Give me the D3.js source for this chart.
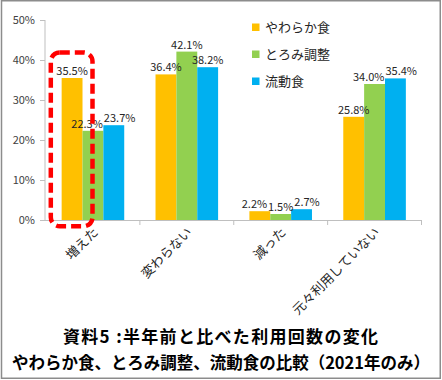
<!DOCTYPE html>
<html><head><meta charset="utf-8">
<script src="https://cdn.jsdelivr.net/npm/d3@7"></script>
<style>html,body{margin:0;padding:0;background:#fff;}svg{display:block;}</style>
</head><body>
<script>
const categories = ["増えた", "変わらない", "減った", "元々利用していない"];
const seriesNames = ["やわらか食", "とろみ調整", "流動食"];
const softFood = [35.5, 36.4, 2.2, 25.8];
const thickened = [22.3, 42.1, 1.5, 34.0];
const liquidFood = [23.7, 38.2, 2.7, 35.4];
const yTicks = [0, 10, 20, 30, 40, 50];
const colors = ["#FFC000", "#92D050", "#00B0F0"];
const titleLines = ["資料5 :半年前と比べた利用回数の変化", "やわらか食、とろみ調整、流動食の比較（2021年のみ）"];

const series = [softFood, thickened, liquidFood];
const W = 442, H = 380;
const font = "'Noto Sans CJK JP', 'Noto Sans', sans-serif";
const svg = d3.select("body").append("svg").attr("width", W).attr("height", H);

// outer frame
svg.append("rect").attr("x", 1.5).attr("y", 0.75).attr("width", 438.75).attr("height", 377.5)
  .attr("fill", "#fff").attr("stroke", "#8c8c8c").attr("stroke-width", 1.5);

const y = d3.scaleLinear().domain([0, 50]).range([220, 20]);
const x = d3.scaleBand().domain(categories).range([46, 421.5]).paddingInner(0).paddingOuter(0);
const bw = x.bandwidth() / 4.5;
const axisColor = "#bfbfbf";
const barX = (si, i) => x(categories[i]) + x.bandwidth() / 2 - 1.5 * bw + si * bw;

// y axis
const yAxis = svg.append("g").attr("transform", "translate(45,0)")
  .call(d3.axisLeft(y).tickValues(yTicks).tickSize(5).tickPadding(5).tickFormat(d => d + "%"));
yAxis.select(".domain").attr("stroke", axisColor).attr("d", "M0,20V220");
yAxis.selectAll(".tick line").attr("stroke", axisColor);
yAxis.selectAll(".tick text").attr("font-family", font).attr("font-size", 11).attr("fill", "#404040");

// x axis line & ticks
svg.append("line").attr("x1", 45).attr("x2", x.range()[1]).attr("y1", 220.5).attr("y2", 220.5).attr("stroke", axisColor);
const bounds = categories.map(c => x(c)).concat([x.range()[1]]).slice(1);
svg.selectAll(".xt").data(bounds).enter().append("line")
  .attr("x1", d => d).attr("x2", d => d).attr("y1", 220).attr("y2", 225).attr("stroke", axisColor);

// bars
series.forEach((vals, si) => {
  svg.append("g").selectAll("rect").data(vals).enter().append("rect")
    .attr("x", (d, i) => barX(si, i))
    .attr("width", bw)
    .attr("y", d => y(d)).attr("height", d => y(0) - y(d))
    .attr("fill", colors[si]);
});

// data labels with simple overlap avoidance (like Excel's label spreading)
const labelG = svg.append("g");
categories.forEach((c, i) => {
  const labs = series.map((vals, si) => {
    const t = labelG.append("text")
      .attr("text-anchor", "middle").attr("font-family", font).attr("font-size", 11).attr("fill", "#262626")
      .text(vals[i].toFixed(1) + "%");
    const w = t.node().getComputedTextLength();
    return { t, cx: barX(si, i) + bw / 2, by: y(vals[i]) - 3, w };
  });
  for (let pass = 0; pass < 3; pass++) {
    for (let j = 1; j < labs.length; j++) {
      const a = labs[j - 1], b = labs[j];
      if (Math.abs(a.by - b.by) < 10) {
        const o = (a.cx + a.w / 2) - (b.cx - b.w / 2) + 1;
        if (o > 0) { a.cx -= o / 2; b.cx += o / 2; }
      }
    }
  }
  labs.forEach(l => l.t.attr("x", l.cx).attr("y", l.by));
});

// x labels rotated
svg.selectAll(".xl").data(categories).enter().append("text")
  .attr("transform", d => `translate(${x(d) + x.bandwidth() / 2 + 6},${233}) rotate(-45)`)
  .attr("text-anchor", "end").attr("font-family", font).attr("font-size", 13).attr("fill", "#262626")
  .text(d => d);

// legend
const lg = svg.append("g");
seriesNames.forEach((n, i) => {
  const cy = 27 + i * 27;
  lg.append("rect").attr("x", 252).attr("y", cy - 3.5).attr("width", 7.5).attr("height", 7.5).attr("fill", colors[i]);
  lg.append("text").attr("x", 265).attr("y", cy).attr("dy", "0.35em").attr("font-family", font)
    .attr("font-size", 13).attr("fill", "#262626").text(n);
});

// red dashed highlight
svg.append("rect").attr("x", 50.8).attr("y", 52.5).attr("width", 41.7).attr("height", 173.8)
  .attr("rx", 9).attr("fill", "none").attr("stroke", "#ff0000").attr("stroke-width", 4.5)
  .attr("stroke-dasharray", "10,5");

// title
svg.append("text").attr("x", 220.5).attr("y", 343).attr("text-anchor", "middle")
  .attr("font-family", font).attr("font-size", 17).attr("font-weight", "bold").attr("fill", "#000")
  .attr("textLength", 315).attr("lengthAdjust", "spacing")
  .text(titleLines[0]);
svg.append("text").attr("x", 221).attr("y", 369).attr("text-anchor", "middle")
  .attr("font-family", font).attr("font-size", 16.5).attr("font-weight", "bold").attr("fill", "#000")
  .attr("textLength", 418).attr("lengthAdjust", "spacing")
  .text(titleLines[1]);
</script>
</body></html>
